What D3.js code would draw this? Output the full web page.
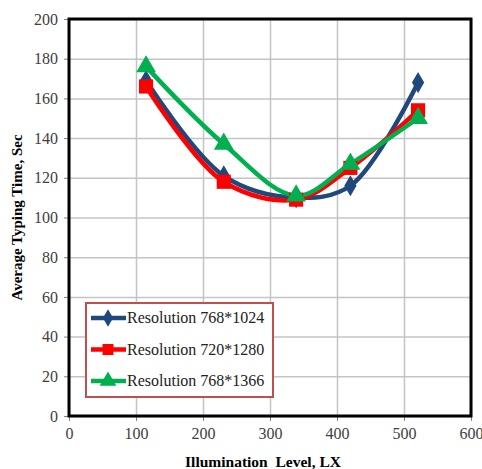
<!DOCTYPE html>
<html>
<head>
<meta charset="utf-8">
<script src="https://cdn.jsdelivr.net/npm/d3@7"></script>
<style>
  body { margin: 0; background: #fff; }
  svg { display: block; }
</style>
</head>
<body>
<div id="chart"></div>
<script>
const illumination = [115, 231, 339, 420, 521];
const res768x1024 = [169, 121, 110, 116, 168];
const res720x1280 = [166, 118, 109, 125, 154];
const res768x1366 = [176, 137, 111, 127, 150];
const xTicks = [0, 100, 200, 300, 400, 500, 600];
const yTicks = [0, 20, 40, 60, 80, 100, 120, 140, 160, 180, 200];

const series = [
  { name: 'Resolution 768*1024', values: res768x1024, color: '#1f497d', marker: 'diamond' },
  { name: 'Resolution 720*1280', values: res720x1280, color: '#ff0000', marker: 'square' },
  { name: 'Resolution 768*1366', values: res768x1366, color: '#00b050', marker: 'triangle' }
];

const SERIF = "'Liberation Serif', 'Times New Roman', serif";
const W = 482, H = 469;
const margin = { top: 19, right: 11, bottom: 53, left: 69 };
const iW = W - margin.left - margin.right;
const iH = H - margin.top - margin.bottom;

const svg = d3.select('#chart').append('svg')
  .attr('width', W).attr('height', H);

const g = svg.append('g').attr('transform', `translate(${margin.left},${margin.top})`);

const x = d3.scaleLinear().domain([0, 600]).range([0, iW]);
const y = d3.scaleLinear().domain([0, 200]).range([iH, 0]);

// grid
g.append('g')
  .call(d3.axisLeft(y).tickValues(yTicks).tickSize(-iW).tickFormat(''))
  .call(ax => ax.select('.domain').remove())
  .call(ax => ax.selectAll('line').attr('stroke', '#c4c4c4').attr('stroke-width', 1.5));
g.append('g')
  .call(d3.axisBottom(x).tickValues(xTicks).tickSize(iH).tickFormat(''))
  .call(ax => ax.select('.domain').remove())
  .call(ax => ax.selectAll('line').attr('stroke', '#c4c4c4').attr('stroke-width', 1.5));

// axes
g.append('g')
  .call(d3.axisLeft(y).tickValues(yTicks).tickSize(5).tickPadding(6))
  .attr('font-family', SERIF)
  .call(ax => ax.select('.domain').remove())
  .call(ax => ax.selectAll('line').attr('stroke', '#808080'))
  .call(ax => ax.selectAll('text').style('font-family', SERIF).style('font-size', '16px').attr('fill', '#404040'));
g.append('g')
  .attr('transform', `translate(0,${iH})`)
  .call(d3.axisBottom(x).tickValues(xTicks).tickSize(5).tickPadding(7))
  .attr('font-family', SERIF)
  .call(ax => ax.select('.domain').remove())
  .call(ax => ax.selectAll('line').attr('stroke', '#808080'))
  .call(ax => ax.selectAll('text').style('font-family', SERIF).style('font-size', '16px').attr('fill', '#404040'));

// frame
g.append('rect')
  .attr('width', iW).attr('height', iH)
  .attr('fill', 'none').attr('stroke', '#000').attr('stroke-width', 3);

const symbolType = { diamond: d3.symbolDiamond, square: d3.symbolSquare, triangle: d3.symbolTriangle };
const symbolSize = { diamond: 130, square: 200, triangle: 170 };

const line = d3.line()
  .x((d, i) => x(illumination[i]))
  .y(d => y(d))
  .curve(d3.curveCatmullRom.alpha(0.5));

series.forEach(s => {
  g.append('path')
    .attr('d', line(s.values))
    .attr('fill', 'none')
    .attr('stroke', s.color)
    .attr('stroke-width', 4.5)
    .attr('stroke-linejoin', 'round');
});
series.forEach(s => {
  g.selectAll(null)
    .data(s.values)
    .join('path')
    .attr('transform', (d, i) => `translate(${x(illumination[i])},${y(d)})`)
    .attr('d', d3.symbol().type(symbolType[s.marker]).size(symbolSize[s.marker])())
    .attr('fill', s.color);
});

// legend
const lg = svg.append('g').attr('transform', 'translate(86,303)');
lg.append('rect')
  .attr('width', 187).attr('height', 94)
  .attr('fill', '#fff').attr('stroke', '#c0504d').attr('stroke-width', 2);
series.forEach((s, i) => {
  const yy = 15 + i * 31.5;
  lg.append('line')
    .attr('x1', 5).attr('x2', 40).attr('y1', yy).attr('y2', yy)
    .attr('stroke', s.color).attr('stroke-width', 4.5);
  lg.append('path')
    .attr('transform', `translate(22,${yy})`)
    .attr('d', d3.symbol().type(symbolType[s.marker]).size(s.marker === 'diamond' ? 90 : 120)())
    .attr('fill', s.color);
  lg.append('text')
    .attr('x', 41).attr('y', yy + 5)
    .style('font-family', SERIF).style('font-size', '16px').attr('fill', '#222')
    .text(s.name);
});

// axis titles
svg.append('text')
  .attr('x', margin.left + iW / 2 - 7).attr('y', 467)
  .attr('text-anchor', 'middle')
  .style('font-family', SERIF).style('font-size', '15.5px').attr('font-weight', 'bold')
  .style('white-space', 'pre')
  .text('Illumination  Level, LX');

svg.append('text')
  .attr('transform', `translate(22,${margin.top + iH / 2}) rotate(-90)`)
  .attr('text-anchor', 'middle')
  .style('font-family', SERIF).style('font-size', '15px').attr('font-weight', 'bold')
  .text('Average Typing Time, Sec');
</script>
</body>
</html>
